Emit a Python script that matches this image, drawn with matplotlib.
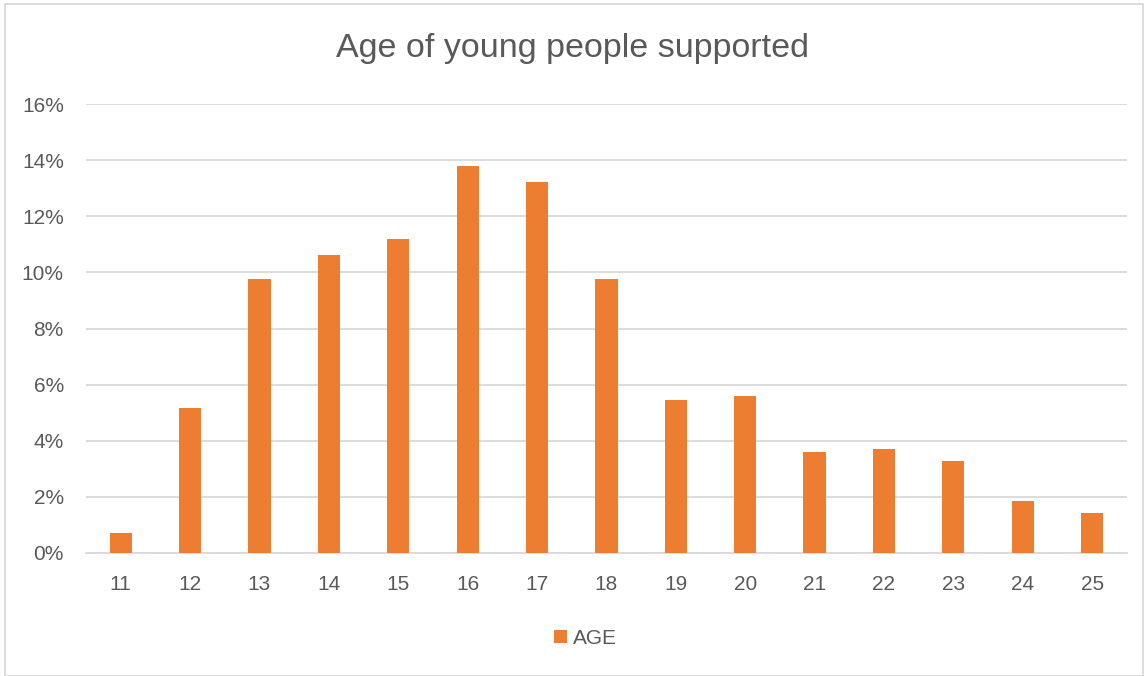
import matplotlib as mpl

mpl.use("Agg")

import matplotlib.pyplot as plt
from matplotlib.patches import Rectangle
from matplotlib.ticker import PercentFormatter

ages = ["11", "12", "13", "14", "15", "16", "17", "18", "19", "20", "21", "22", "23", "24", "25"]
share = [0.71, 5.16, 9.76, 10.62, 11.19, 13.80, 13.22, 9.77, 5.46, 5.59, 3.60, 3.71, 3.29, 1.85, 1.42]
y_ticks = [0, 2, 4, 6, 8, 10, 12, 14, 16]

orange = "#ED7D31"
grey_text = "#595959"
grid_grey = "#D9D9D9"

plt.rcParams["font.family"] = ["Liberation Sans", "DejaVu Sans"]

fig = plt.figure(figsize=(11.44, 6.76), dpi=100)
ax = fig.add_axes([0.0752, 0.182, 0.9098, 0.664])

x = range(len(ages))
ax.bar(x, share, width=0.32, color=orange, label="AGE", zorder=3)

ax.set_xlim(-0.5, len(ages) - 0.5)
ax.set_ylim(0, 16)
ax.set_yticks(y_ticks)
ax.yaxis.set_major_formatter(PercentFormatter(decimals=0))
ax.set_xticks(list(x))
ax.set_xticklabels(ages)
ax.grid(axis="y", color=grid_grey, linewidth=1.3, zorder=0)
ax.tick_params(axis="both", length=0, labelsize=15, colors=grey_text)
ax.tick_params(axis="y", pad=16)
ax.tick_params(axis="x", pad=16)
for side in ["top", "right", "left"]:
    ax.spines[side].set_visible(False)
ax.spines["bottom"].set_color(grid_grey)
ax.spines["bottom"].set_linewidth(1.3)

fig.text(0.5, 0.928, "Age of young people supported", ha="center", va="center",
         fontsize=24.5, color=grey_text)

ax.legend(loc="center", bbox_to_anchor=(0.48, -0.19), frameon=False, fontsize=15,
          labelcolor=grey_text, handlelength=0.6, handleheight=0.6, handletextpad=0.3)

fig.patches.append(Rectangle((0.004, 0.0), 0.995, 0.994, transform=fig.transFigure,
                             fill=False, edgecolor=grid_grey, linewidth=1.3))

fig.savefig("out.png", dpi=100)
